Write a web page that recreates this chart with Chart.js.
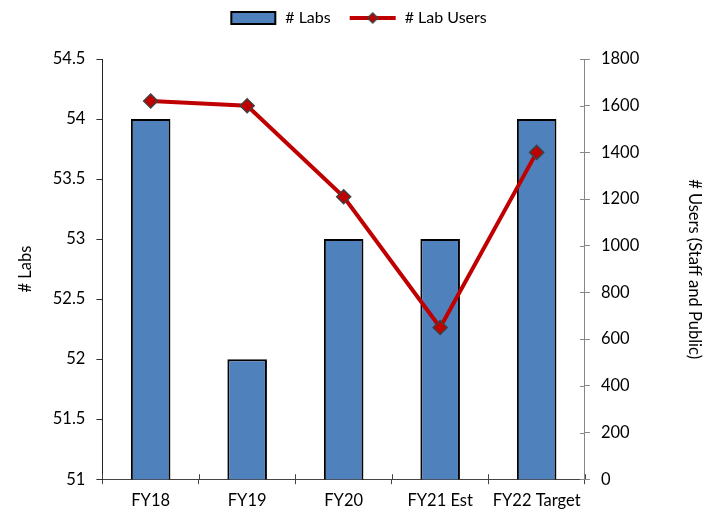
<!DOCTYPE html>
<html>
<head>
<meta charset="utf-8">
<script src="https://cdn.jsdelivr.net/npm/chart.js@4"></script>
<style>
  html, body { margin: 0; padding: 0; background: #fff; }
  #wrap { width: 704px; height: 514px; }
</style>
</head>
<body>
<div id="wrap"><canvas id="myChart" width="704" height="514"></canvas></div>
<script>
// Data
var categories = ["FY18", "FY19", "FY20", "FY21 Est", "FY22 Target"];
var labCounts = [54, 52, 53, 53, 54];
var labUsers = [1620, 1600, 1210, 650, 1400];

var barBlue = "#4F81BD";
var lineRed = "#C00000";
var fontName = "Lato, 'Open Sans', sans-serif";
var fontSize = 16.5;

// legend icons drawn on small canvases
function makeIcon(kind) {
  var c = document.createElement("canvas");
  c.width = 48; c.height = 16;
  var g = c.getContext("2d");
  if (kind === "bar") {
    g.fillStyle = barBlue;
    g.fillRect(2, 2, 44, 12);
    g.strokeStyle = "#000";
    g.lineWidth = 2;
    g.strokeRect(2, 2, 44, 12);
  } else {
    g.strokeStyle = lineRed;
    g.lineWidth = 4;
    g.beginPath(); g.moveTo(1, 8); g.lineTo(47, 8); g.stroke();
    g.fillStyle = lineRed;
    g.strokeStyle = "#404040";
    g.lineWidth = 1.5;
    g.beginPath();
    g.moveTo(24, 3); g.lineTo(29, 8); g.lineTo(24, 13); g.lineTo(19, 8); g.closePath();
    g.fill(); g.stroke();
  }
  return c;
}
var barIcon = makeIcon("bar");
var lineIcon = makeIcon("line");

// extra room under the legend
var legendGap = {
  id: "legendGap",
  beforeInit: function (chart) {
    var fit = chart.legend.fit;
    chart.legend.fit = function () {
      fit.bind(chart.legend)();
      this.height += 23;
    };
  }
};

// draws the inner half of the x and right axis tick marks (they cross the axis line)
var crossTicks = {
  id: "crossTicks",
  afterDraw: function (chart) {
    var ctx = chart.ctx;
    var x = chart.scales.x, y1 = chart.scales.y1;
    ctx.save();
    ctx.lineWidth = 1;
    ctx.strokeStyle = "#444";
    var half = (x.getPixelForValue(1) - x.getPixelForValue(0)) / 2;
    ctx.beginPath();
    for (var i = 0; i <= categories.length; i++) {
      var px = Math.round(x.getPixelForValue(i) - half) + 0.5;
      ctx.moveTo(px, x.top); ctx.lineTo(px, x.top - 5);
    }
    ctx.stroke();
    ctx.strokeStyle = "#888";
    ctx.beginPath();
    y1.ticks.forEach(function (t) {
      var py = Math.round(y1.getPixelForValue(t.value)) + 0.5;
      ctx.moveTo(y1.left, py); ctx.lineTo(y1.left - 5, py);
    });
    ctx.stroke();
    ctx.restore();
  }
};

var ctx = document.getElementById("myChart").getContext("2d");
var myChart = new Chart(ctx, {
  type: "bar",
  data: {
    labels: categories,
    datasets: [
      {
        type: "bar",
        label: "# Labs",
        data: labCounts,
        yAxisID: "y",
        backgroundColor: barBlue,
        borderColor: "#000",
        borderWidth: 2,
        barPercentage: 0.41,
        categoryPercentage: 1,
        order: 2
      },
      {
        type: "line",
        label: "# Lab Users",
        data: labUsers,
        yAxisID: "y1",
        borderColor: lineRed,
        borderWidth: 4,
        pointStyle: "rectRot",
        pointRadius: 7,
        pointBackgroundColor: lineRed,
        pointBorderColor: "#404040",
        pointBorderWidth: 1.5,
        tension: 0,
        order: 1
      }
    ]
  },
  plugins: [legendGap, crossTicks],
  options: {
    responsive: false,
    animation: false,
    layout: { padding: { left: 12, right: 0, top: -8, bottom: -4 } },
    plugins: {
      tooltip: { enabled: false },
      legend: {
        position: "top",
        labels: {
          usePointStyle: true,
          pointStyleWidth: 48,
          boxHeight: 16,
          padding: 18,
          color: "#000",
          font: { family: fontName, size: 16 },
          generateLabels: function () {
            return [
              { text: "# Labs", pointStyle: barIcon, datasetIndex: 0, lineWidth: 0, fillStyle: barBlue, strokeStyle: "#000" },
              { text: "# Lab Users", pointStyle: lineIcon, datasetIndex: 1, lineWidth: 0, fillStyle: lineRed, strokeStyle: lineRed }
            ];
          }
        }
      }
    },
    scales: {
      x: {
        grid: { display: true, drawOnChartArea: false, offset: true, tickLength: 5, color: "#444" },
        border: { color: "#444" },
        ticks: { color: "#000", font: { family: fontName, size: fontSize }, padding: 7, maxRotation: 0 }
      },
      y: {
        position: "left",
        min: 51,
        max: 54.5,
        ticks: {
          stepSize: 0.5, color: "#000", font: { family: fontName, size: fontSize }, padding: 11,
          callback: function (v) { return String(v); }
        },
        grid: { drawOnChartArea: false, tickLength: 6, color: "#333" },
        border: { color: "#222" },
        title: { display: true, text: "# Labs", color: "#000", font: { family: fontName, size: fontSize }, padding: { bottom: 6 } }
      },
      y1: {
        position: "right",
        min: 0,
        max: 1800,
        ticks: {
          stepSize: 200, color: "#000", font: { family: fontName, size: fontSize }, padding: 11,
          callback: function (v) { return String(v); }
        },
        grid: { drawOnChartArea: false, tickLength: 5, color: "#888" },
        border: { color: "#888" },
        title: { display: true, text: "# Users (Staff and Public)", color: "#000", font: { family: fontName, size: fontSize }, padding: { top: 0, bottom: 34 } }
      }
    }
  }
});
</script>
</body>
</html>
